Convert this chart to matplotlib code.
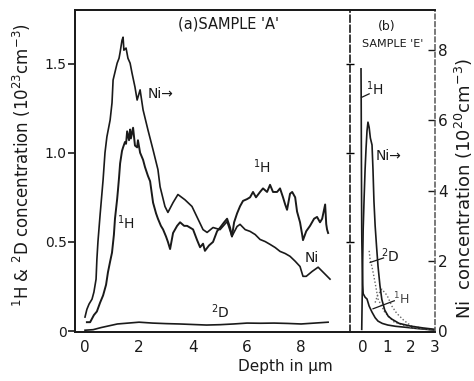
import matplotlib
matplotlib.use("Agg")
import matplotlib.pyplot as plt

plt.rcParams['font.family'] = ['DejaVu Sans']

# ---------------- data: panel (a) sample 'A' ----------------
h_a_depth = [0.07,0.19,0.33,0.44,0.56,0.67,0.78,0.85,0.93,1.0,1.07,1.11,1.19,1.22,1.26,1.30,1.37,1.41,1.48,1.52,
             1.56,1.63,1.67,1.70,1.78,1.85,1.93,1.96,2.04,2.15,2.22,2.33,2.41,2.52,2.63,2.70,2.81,2.89,3.0,3.07,
             3.15,3.26,3.41,3.52,3.67,3.78,3.89,4.0,4.15,4.26,4.37,4.44,4.59,4.74,4.89,5.0,5.15,5.26,5.37,5.44,
             5.52,5.63,5.74,5.85,6.0,6.11,6.22,6.33,6.48,6.59,6.74,6.85,6.96,7.11,7.22,7.33,7.41,7.48,7.59,7.67,
             7.78,7.85,7.96,8.04,8.07,8.19,8.33,8.48,8.59,8.70,8.78,8.89,8.93,8.96,9.0]
h_a_conc = [0.05,0.05,0.09,0.11,0.16,0.20,0.26,0.33,0.39,0.44,0.54,0.63,0.74,0.79,0.86,0.94,1.01,1.03,1.06,1.05,
            1.12,1.07,1.13,1.08,1.14,1.04,1.03,1.07,1.00,0.96,0.92,0.87,0.84,0.72,0.66,0.63,0.59,0.57,0.53,0.50,
            0.46,0.55,0.59,0.61,0.59,0.59,0.58,0.57,0.51,0.47,0.49,0.45,0.48,0.50,0.56,0.58,0.61,0.63,0.58,0.53,
            0.61,0.66,0.70,0.73,0.74,0.75,0.78,0.75,0.78,0.80,0.78,0.82,0.78,0.78,0.80,0.75,0.71,0.68,0.77,0.78,
            0.75,0.67,0.61,0.54,0.51,0.56,0.59,0.63,0.64,0.61,0.63,0.71,0.60,0.57,0.55]

ni_a_depth = [0.0,0.07,0.15,0.26,0.33,0.41,0.44,0.48,0.56,0.67,0.74,0.81,0.93,1.0,1.04,1.19,1.26,1.30,1.37,1.41,
              1.44,1.52,1.59,1.67,1.74,1.85,1.93,2.04,2.15,2.33,2.52,2.70,2.78,2.96,3.07,3.26,3.44,3.70,3.96,4.19,
              4.37,4.52,4.74,5.0,5.26,5.44,5.63,5.74,5.93,6.11,6.30,6.48,6.67,6.85,7.04,7.22,7.41,7.59,7.78,7.96,
              8.07,8.19,8.41,8.63,8.89,9.07]
ni_a_conc = [0.40,0.62,0.77,0.91,1.11,1.48,2.04,2.55,3.32,4.31,5.08,5.53,6.01,6.50,7.15,7.63,7.77,7.94,8.28,8.37,
             8.00,8.06,7.77,7.63,7.35,6.95,6.58,6.87,6.30,5.73,5.16,4.60,4.11,3.55,3.38,3.66,3.89,3.74,3.55,3.18,
             2.89,2.81,2.95,2.89,3.12,2.70,2.98,3.04,2.89,2.84,2.75,2.61,2.55,2.47,2.38,2.27,2.21,2.13,1.99,1.84,
             1.56,1.56,1.70,1.82,1.62,1.48]

d_a_depth = [0.0,0.3,0.6,0.9,1.2,1.6,2.0,2.5,3.0,3.5,4.0,4.5,5.0,5.5,6.0,6.5,7.0,7.5,8.0,8.5,9.0]
d_a_conc = [0.005,0.008,0.02,0.03,0.04,0.045,0.05,0.045,0.042,0.04,0.037,0.034,0.036,0.04,0.045,0.044,0.045,0.043,0.04,0.045,0.05]

# ---------------- data: panel (b) sample 'E' ----------------
h_b_depth = [-0.09,-0.085,-0.08,-0.075,-0.07,-0.065,-0.06,-0.055,-0.05,-0.045,-0.04,-0.03,-0.02,0.0,0.08,0.16,
             0.25,0.37,0.5,0.62,0.8,1.03,1.35,1.73,2.3,2.96]
h_b_conc = [1.47,1.36,1.2,1.0,0.85,0.7,0.58,0.50,0.46,0.42,0.38,0.32,0.26,0.21,0.19,0.18,
            0.14,0.106,0.075,0.056,0.043,0.034,0.027,0.022,0.014,0.006]

ni_b_depth = [-0.06,-0.04,-0.02,0.0,0.04,0.08,0.12,0.16,0.2,0.25,0.3,0.37,0.41,0.45,0.5,0.56,0.62,0.7,0.78,0.9,
              1.05,1.2,1.5,2.0,2.5,3.0]
ni_b_conc = [0.05,1.0,2.0,2.9,3.8,4.6,5.2,5.7,5.95,5.8,5.5,5.3,4.6,3.7,3.0,2.4,1.85,1.3,0.9,0.6,
             0.42,0.34,0.22,0.14,0.09,0.05]

d_b_depth = [0.25,0.29,0.37,0.5,0.62,0.9,1.3,2.0,3.0]
d_b_conc = [0.45,0.40,0.36,0.27,0.18,0.106,0.05,0.02,0.008]

h2_b_depth = [0.5,0.6,0.78,1.0,1.2,1.4,1.7,2.0,2.5,3.0]
h2_b_conc = [0.16,0.2,0.235,0.2,0.14,0.1,0.06,0.03,0.015,0.008]

left_ticks = [0, 0.5, 1.0, 1.5]
left_ticklabels = ['0', '0.5', '1.0', '1.5']
right_ticks = [0, 2, 4, 6, 8]
xa_ticks = [0, 2, 4, 6, 8]
xb_ticks = [0, 1, 2, 3]

# ---------------- figure ----------------
W, H = 474, 381
fig = plt.figure(figsize=(W/100, H/100), dpi=100)

def fx(px): return px / W
def fy(py): return 1 - py / H

top, bot = 10, 332
axa = fig.add_axes([fx(75), fy(bot), fx(350) - fx(75), fy(top) - fy(bot)])
axb = fig.add_axes([fx(350), fy(bot), fx(435) - fx(350), fy(top) - fy(bot)])
axb.patch.set_visible(False)

ylim_l = (-0.005, 1.80)
scale = 5.08
ylim_r = (ylim_l[0] * scale, ylim_l[1] * scale)

axa.set_xlim(-0.37, 9.81)
axb.set_xlim(-0.55, 3.0)
for ax in (axa, axb):
    ax.set_ylim(*ylim_l)

axa_r = axa.twinx()
axb_r = axb.twinx()
for ax in (axa_r, axb_r):
    ax.set_ylim(*ylim_r)
    ax.patch.set_visible(False)

lc = '#1a1a1a'
# panel a curves
axa.plot(h_a_depth, h_a_conc, color=lc, lw=1.4)
axa.plot(d_a_depth, d_a_conc, color=lc, lw=1.2)
axa_r.plot(ni_a_depth, ni_a_conc, color=lc, lw=1.2)
# panel b curves
axb.plot(h_b_depth, h_b_conc, color=lc, lw=1.2)
axb.plot(d_b_depth, d_b_conc, color='#666666', lw=1.0, ls=(0, (1, 1.5)))
axb.plot(h2_b_depth, h2_b_conc, color='#666666', lw=1.0, ls=(0, (1, 1.5)))
axb_r.plot(ni_b_depth, ni_b_conc, color=lc, lw=1.2)

# spines
for ax in (axa, axa_r, axb, axb_r):
    for s in ax.spines.values():
        s.set_color(lc)
        s.set_linewidth(1.3)
for ax in (axa, axa_r):
    ax.spines['right'].set_visible(False)
axb.spines['right'].set_visible(False)
axb_r.spines['left'].set_visible(False)
axb.spines['left'].set_linestyle((0, (4, 2)))
axb.spines['left'].set_linewidth(1.2)
axb.spines['left'].set_zorder(5)
axb_r.spines['right'].set_linestyle((0, (3, 2)))
axb_r.spines['right'].set_color('#555555')
axb_r.spines['right'].set_linewidth(1.1)

# ticks
axa.set_yticks(left_ticks)
axa.set_yticklabels(left_ticklabels)
axa.tick_params(axis='y', direction='out', length=5, width=1.2, pad=1, labelsize=10, colors=lc)
axa.set_xticks(xa_ticks)
axa.set_xticklabels([str(t) for t in xa_ticks])
axa.tick_params(axis='x', length=0, pad=6, labelsize=11, colors=lc)
axa_r.set_yticks([])

axb.set_yticks(left_ticks[1:])
axb.tick_params(axis='y', direction='inout', length=6, width=1.0, labelleft=False)
axb.set_xticks(xb_ticks)
axb.set_xticklabels([str(t) for t in xb_ticks])
axb.tick_params(axis='x', length=0, pad=6, labelsize=11, colors=lc)
axb_r.set_yticks(right_ticks)
axb_r.set_yticklabels([str(t) for t in right_ticks])
axb_r.tick_params(axis='y', direction='in', length=5, width=1.0, pad=2, labelsize=11, colors=lc)

# annotations panel a
fs = 10
axa.text(5.3, 1.765, "(a)SAMPLE 'A'", ha='center', va='top', fontsize=10.5, color=lc)
axa.text(2.3, 1.33, "Ni→", ha='left', va='center', fontsize=fs, color=lc)
axa.text(1.52, 0.61, r"$^{1}$H", ha='center', va='center', fontsize=fs, color=lc)
axa.text(6.56, 0.92, r"$^{1}$H", ha='center', va='center', fontsize=fs, color=lc)
axa.text(8.4, 0.41, "Ni", ha='center', va='center', fontsize=fs, color=lc)
axa.text(5.0, 0.11, r"$^{2}$D", ha='center', va='center', fontsize=fs, color=lc)

# annotations panel b
axb.text(1.0, 1.745, "(b)", ha='center', va='top', fontsize=9, color=lc)
axb.text(1.25, 1.64, "SAMPLE 'E'", ha='center', va='top', fontsize=8, color=lc)
axb.plot([-0.07, 0.25], [1.31, 1.33], color=lc, lw=0.9)
axb.text(0.5, 1.36, r"$^{1}$H", ha='center', va='center', fontsize=fs, color=lc)
axb.text(0.5, 0.98, "Ni→", ha='left', va='center', fontsize=fs, color=lc)
axb.plot([0.29, 0.85], [0.385, 0.41], color=lc, lw=0.9)
axb.text(1.15, 0.42, r"$^{2}$D", ha='center', va='center', fontsize=fs, color=lc)
axb.plot([0.41, 1.3], [0.125, 0.17], color=lc, lw=0.9)
axb.text(1.6, 0.18, r"$^{1}$H", ha='center', va='center', fontsize=9, color='#444444')

# axis labels
fig.text(fx(22), fy(165), r"$^{1}$H & $^{2}$D concentration (10$^{23}$cm$^{-3}$)",
         rotation=90, ha='center', va='center', fontsize=12, color=lc)
fig.text(fx(464), fy(188), r"Ni  concentration (10$^{20}$cm$^{-3}$)",
         rotation=90, ha='center', va='center', fontsize=13, color=lc)
fig.text(fx(285), fy(366), "Depth in μm", ha='center', va='center', fontsize=11, color=lc)

fig.savefig("out.png", dpi=100)
